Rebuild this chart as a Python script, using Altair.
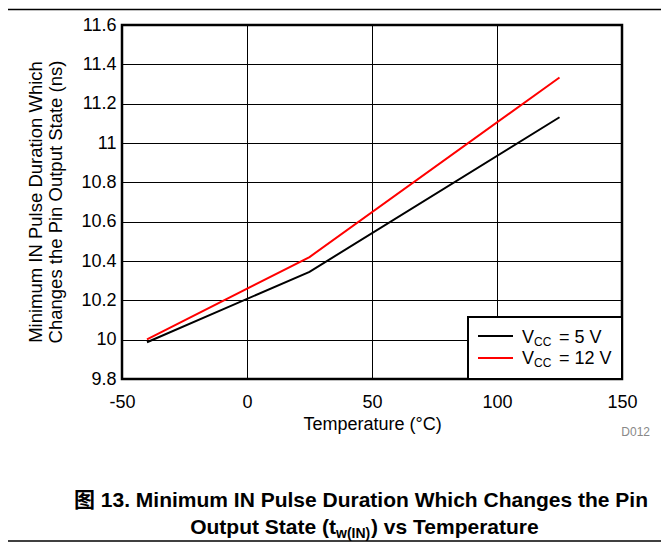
import altair as alt
import pandas as pd

# ---- data ----
temperature = [-40, 25, 125]
vcc_5v = [9.987, 10.345, 11.131]
vcc_12v = [10.002, 10.42, 11.333]
series_names = ["VCC = 5 V", "VCC = 12 V"]
series_colors = ["#000000", "#ff0000"]
x_ticks = [-50, 0, 50, 100, 150]
y_ticks = [9.8, 10.0, 10.2, 10.4, 10.6, 10.8, 11.0, 11.2, 11.4, 11.6]

rows = []
for name, vals in zip(series_names, [vcc_5v, vcc_12v]):
    for t, v in zip(temperature, vals):
        rows.append({"Temperature": t, "Value": v, "Series": name})
df = pd.DataFrame(rows)

FONT = "Liberation Sans"
W, H = 500, 354
FS = 18

lines = alt.Chart(df).mark_line(strokeWidth=2, clip=True).encode(
    x=alt.X("Temperature:Q",
            scale=alt.Scale(domain=[-50, 150], nice=False),
            axis=alt.Axis(values=x_ticks, title="Temperature (°C)",
                          labelExpr="'' + datum.value", ticks=False,
                          domain=False, grid=True, gridColor="#000000",
                          gridWidth=1, gridOpacity=1, labelPadding=14,
                          labelFlush=False,
                          titlePadding=4, labelFontSize=FS, titleFontSize=FS,
                          labelFont=FONT, titleFont=FONT, labelColor="#000",
                          titleColor="#000", titleFontWeight="normal")),
    y=alt.Y("Value:Q",
            scale=alt.Scale(domain=[9.8, 11.6], nice=False, zero=False),
            axis=alt.Axis(values=y_ticks, title=None,
                          labelExpr="format(datum.value, '.3~g')", ticks=False,
                          domain=False, grid=True, gridColor="#000000",
                          gridWidth=1, gridOpacity=1, labelPadding=6,
                          labelFlush=False,
                          labelFontSize=FS, labelFont=FONT, labelColor="#000")),
    color=alt.Color("Series:N",
                    scale=alt.Scale(domain=series_names, range=series_colors),
                    legend=None),
)

one = pd.DataFrame({"k": [0]})


def txt(s, x, y, size=FS, align="left", baseline="alphabetic", weight="normal",
        color="#000000", angle=None, font=FONT):
    kw = dict(align=align, baseline=baseline, fontSize=size, fontWeight=weight,
              color=color, font=font)
    if angle is not None:
        kw["angle"] = angle
    return alt.Chart(one).mark_text(**kw).encode(
        x=alt.value(x), y=alt.value(y), text=alt.value(s))


def rule(x, x2, y, y2=None, color="#000000", width=1.0):
    enc = dict(x=alt.value(x), x2=alt.value(x2), y=alt.value(y))
    if y2 is not None:
        enc["y2"] = alt.value(y2)
    return alt.Chart(one).mark_rule(color=color, strokeWidth=width).encode(**enc)


layers = [lines]

# y-axis title (two lines)
layers.append(txt("Minimum IN Pulse Duration Which", -86, 177, size=18.5,
                  align="center", baseline="middle", angle=270))
layers.append(txt("Changes the Pin Output State (ns)", -66, 177, size=18.5,
                  align="center", baseline="middle", angle=270))

# legend box
layers.append(alt.Chart(one).mark_rect(fill="#ffffff", stroke="#000000",
                                       strokeWidth=2).encode(
    x=alt.value(346), x2=alt.value(500), y=alt.value(292), y2=alt.value(354)))
layers.append(rule(356, 391, 311, color=series_colors[0], width=2))
layers.append(rule(356, 391, 333, color=series_colors[1], width=2))
for yb, val in [(318, "= 5 V"), (339, "= 12 V")]:
    layers.append(txt("V", 400, yb))
    layers.append(txt("CC", 412, yb + 3, size=12))
    layers.append(txt(val, 437, yb))

# D012 tag
layers.append(txt("D012", 528, 411, size=12, align="right", color="#888888"))

# rules at top and bottom of page
layers.append(rule(-114, 539, -15.5, width=1.5))
layers.append(rule(-114, 539, 516, width=1.5))

# caption
CF = 21
layers.append(txt("图 13. Minimum IN Pulse Duration Which Changes the Pin", 239, 482,
                  size=CF, align="center", weight="bold",
                  font="Liberation Sans, Noto Sans CJK SC"))
layers.append(txt("Output State (t", 214, 509, size=CF, align="right", weight="bold"))
layers.append(txt("w(IN)", 214, 513, size=14, align="left", weight="bold"))
layers.append(txt(") vs Temperature", 249, 509, size=CF, align="left", weight="bold"))

chart = alt.layer(*layers).properties(
    width=W, height=H,
    padding={"left": 114, "top": 17, "right": 39, "bottom": 163},
    autosize=alt.AutoSizeParams(type="none"),
).configure_view(stroke="#000000", strokeWidth=2.5)

chart.save("out.html", embed_options={"renderer": "svg", "actions": False})
